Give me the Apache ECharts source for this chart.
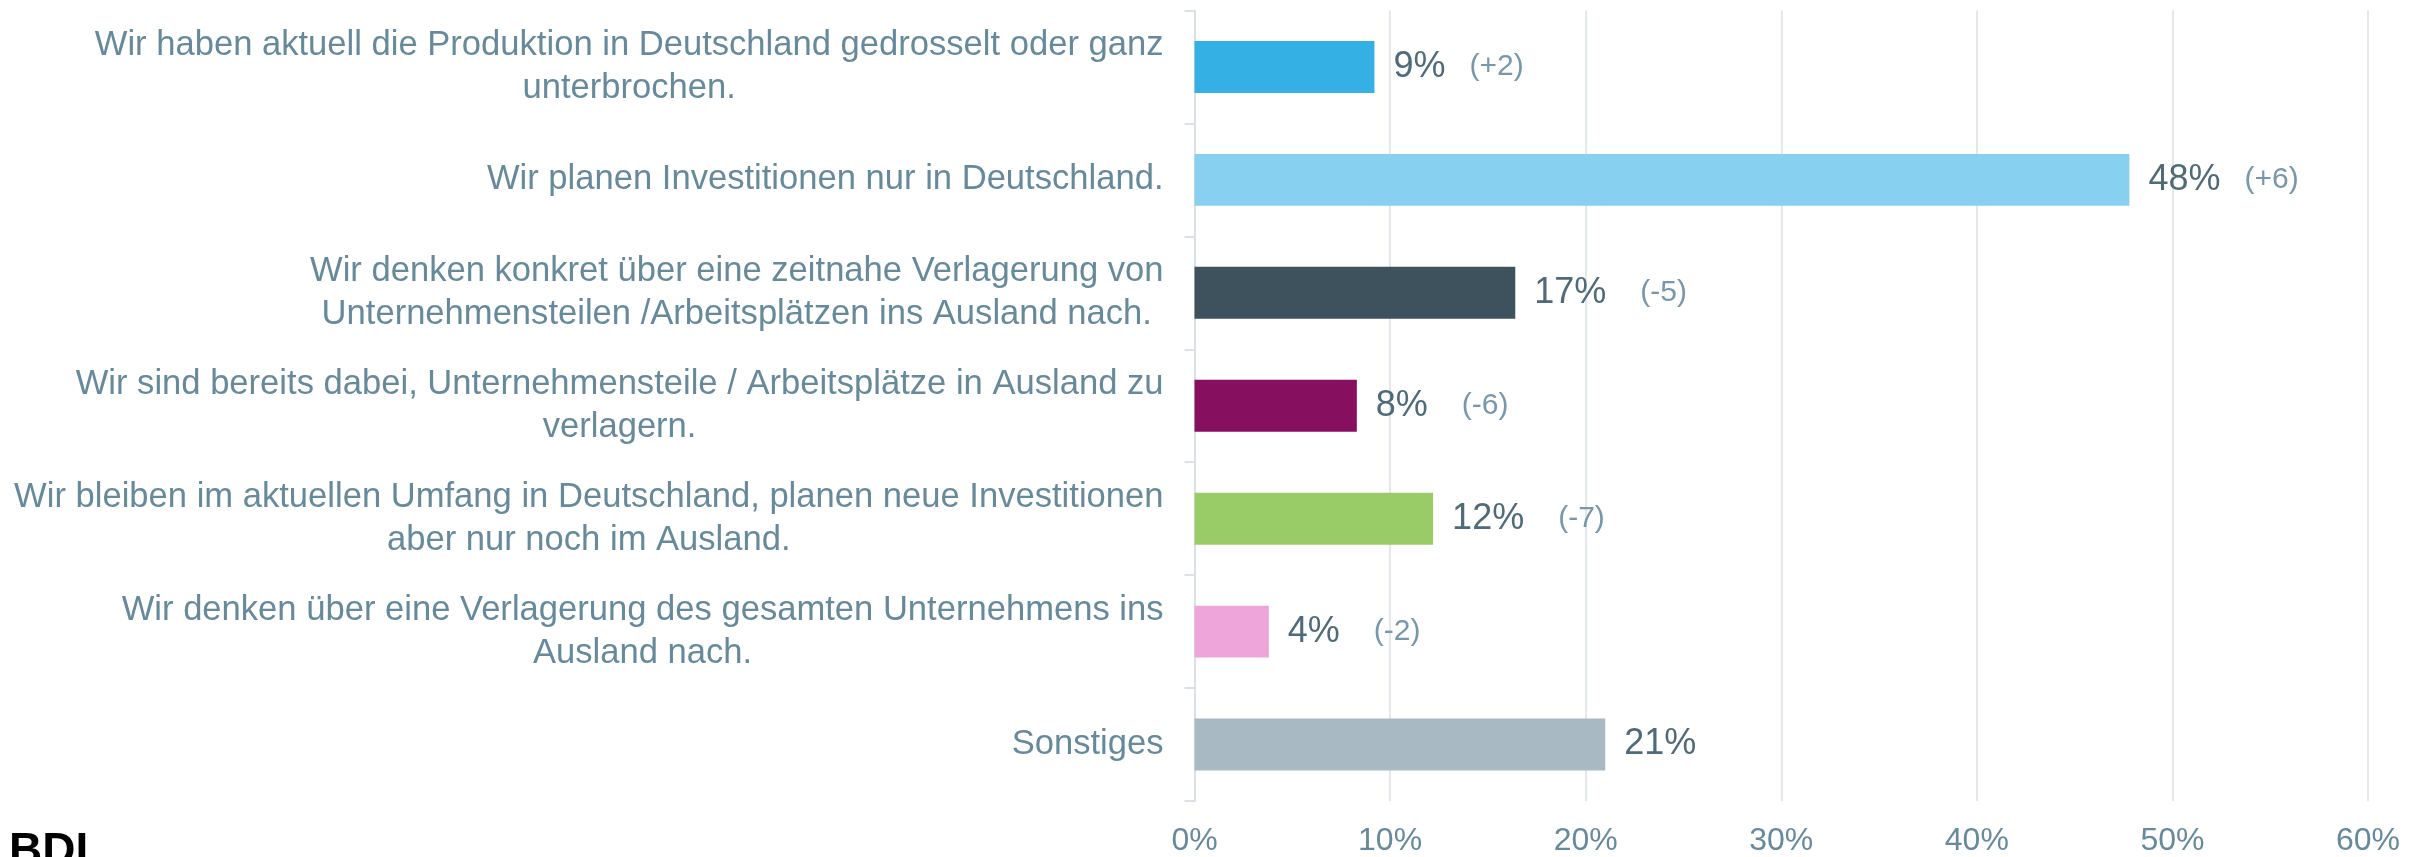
<!DOCTYPE html>
<html lang="de">
<head>
    <meta charset="UTF-8">
    <title>Standortentscheidungen</title>
    <script src="https://cdn.jsdelivr.net/npm/echarts@6.0.0/dist/echarts.min.js"></script>
    <style>
        html, body {
            margin: 0;
            padding: 0;
            background: #ffffff;
        }
        #chart {
            width: 2425px;
            height: 857px;
        }
    </style>
</head>
<body>
    <div id="chart"></div>

    <script>
        // Antwortkategorien (Zeilenumbrüche wie im Original)
        const categories = [
            'Wir haben aktuell die Produktion in Deutschland gedrosselt oder ganz\nunterbrochen.',
            'Wir planen Investitionen nur in Deutschland.',
            'Wir denken konkret über eine zeitnahe Verlagerung von\nUnternehmensteilen /Arbeitsplätzen ins Ausland nach.',
            'Wir sind bereits dabei, Unternehmensteile / Arbeitsplätze in Ausland zu\nverlagern.',
            'Wir bleiben im aktuellen Umfang in Deutschland, planen neue Investitionen\naber nur noch im Ausland.',
            'Wir denken über eine Verlagerung des gesamten Unternehmens ins\nAusland nach.',
            'Sonstiges'
        ];

        // Balkenlänge in Prozent
        const values = [9.2, 47.8, 16.4, 8.3, 12.2, 3.8, 21.0];
        // angezeigte Prozentwerte
        const shownPct = [9, 48, 17, 8, 12, 4, 21];
        // Veränderung zur Vorbefragung
        const deltas = ['+2', '+6', '-5', '-6', '-7', '-2', ''];

        const barColors = ['#35b0e5', '#87d0f0', '#3d525c', '#870f60', '#99cb67', '#eda5da', '#a8b9c3'];

        const xTicks = [0, 10, 20, 30, 40, 50, 60];

        const FONT = "'Liberation Sans', Arial, sans-serif";

        const chart = echarts.init(document.getElementById('chart'));

        const option = {
            backgroundColor: '#ffffff',
            animation: false,
            grid: {
                left: 1194.5,
                right: 57,
                top: 10.5,
                bottom: 52.5,
                containLabel: false
            },
            xAxis: {
                type: 'value',
                min: xTicks[0],
                max: xTicks[xTicks.length - 1],
                interval: 10,
                axisLine: { show: false },
                axisTick: { show: false },
                splitLine: {
                    lineStyle: { color: '#dae1e7', width: 1.5 }
                },
                axisLabel: {
                    formatter: '{value}%',
                    fontFamily: FONT,
                    fontSize: 32,
                    color: '#668a9c',
                    margin: 24
                }
            },
            yAxis: {
                type: 'category',
                inverse: true,
                data: categories,
                axisLine: {
                    show: true,
                    lineStyle: { color: '#d9e0e6', width: 2 }
                },
                axisTick: {
                    show: true,
                    length: 10,
                    lineStyle: { color: '#d9e0e6', width: 2 }
                },
                axisLabel: {
                    margin: 31,
                    fontFamily: FONT,
                    fontSize: 34.6,
                    lineHeight: 43,
                    color: '#668a9c',
                    formatter: function (v) {
                        return v.split('\n').map(function (l) { return '{c|' + l + '}'; }).join('\n');
                    },
                    rich: {
                        c: {
                            align: 'center',
                            fontFamily: FONT,
                            fontSize: 34.6,
                            lineHeight: 43,
                            color: '#668a9c'
                        }
                    }
                }
            },
            series: [{
                type: 'bar',
                barWidth: '46%',
                data: values.map(function (v, i) {
                    return { value: v, itemStyle: { color: barColors[i] } };
                }),
                label: {
                    show: true,
                    position: 'right',
                    distance: 19,
                    formatter: function (p) {
                        const i = p.dataIndex;
                        let s = '{v|' + shownPct[i] + '%}';
                        if (deltas[i]) {
                            s += (deltas[i].charAt(0) === '+' ? '{dp|(' : '{dn|(') + deltas[i] + ')}';
                        }
                        return s;
                    },
                    rich: {
                        v: {
                            fontFamily: FONT,
                            fontSize: 36,
                            color: '#4f6a79'
                        },
                        dp: {
                            fontFamily: FONT,
                            fontSize: 30,
                            color: '#7698aa',
                            padding: [0, 0, 0, 24]
                        },
                        dn: {
                            fontFamily: FONT,
                            fontSize: 30,
                            color: '#7698aa',
                            padding: [0, 0, 0, 34]
                        }
                    }
                }
            }],
            graphic: [{
                type: 'text',
                left: 9,
                top: 829,
                style: {
                    text: 'BDI',
                    fontFamily: FONT,
                    fontWeight: 'bold',
                    fontSize: 46,
                    fill: '#000000'
                }
            }]
        };

        chart.setOption(option);

        window.addEventListener('resize', function () {
            chart.resize();
        });
    </script>
</body>
</html>
